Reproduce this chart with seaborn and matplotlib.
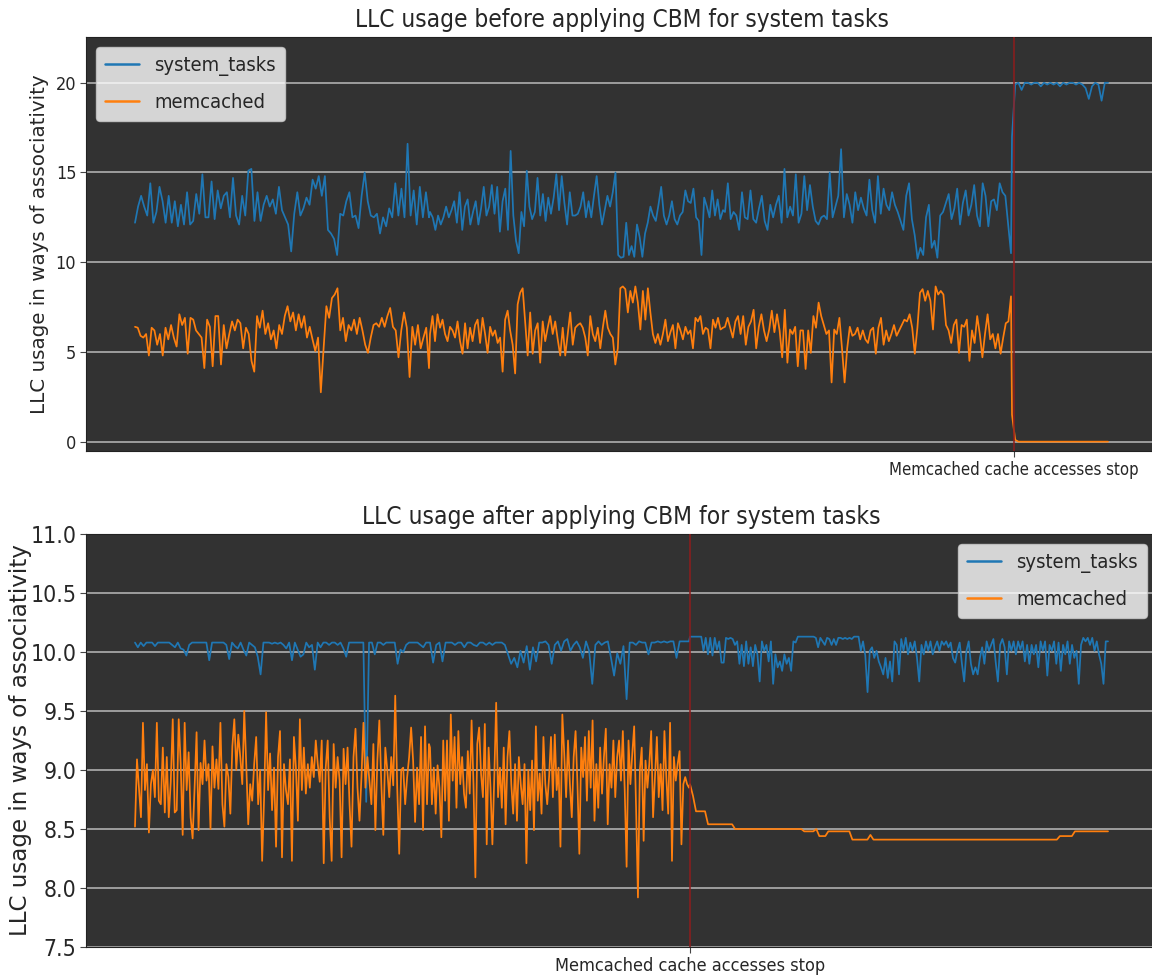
import numpy as np
import pandas as pd
import matplotlib
matplotlib.use("Agg")
import matplotlib.pyplot as plt
import seaborn as sns

# ---------------- data ----------------
SERIES = ["system_tasks", "memcached"]
STOP_LABEL = "Memcached cache accesses stop"
TITLE_TOP = "LLC usage before applying CBM for system tasks"
TITLE_BOTTOM = "LLC usage after applying CBM for system tasks"
YLABEL = "LLC usage in ways of associativity"

# time spans (arbitrary time units) of the chunks that were read
TOP_SPANS = [(0, 294), (295, 588), (590, 876), (877, 973)]
TOP_STOP = 879
BOTTOM_SPANS = [(0, 294), (295, 554), (555, 973)]
BOTTOM_STOP = 555

top_sys_1 = [12.2, 13.1, 13.7, 13.1, 12.6, 14.4, 12.2, 12.8, 14.2, 13.4, 12.2, 13.7, 12.2, 13.4, 12.0, 13.2,
             12.1, 13.9, 12.1, 12.3, 13.8, 12.7, 14.9, 12.5, 12.5, 14.5, 12.4, 14.0, 13.0, 13.7, 13.9, 12.5,
             14.7, 12.6, 12.1, 13.7, 12.6, 15.1, 15.2, 12.3, 13.9, 12.3, 13.2, 13.7, 13.1, 13.5, 12.7, 14.2,
             12.9, 12.5, 12.1, 10.6, 12.7, 13.9, 12.6, 13.0, 13.6, 13.2, 14.6, 14.1, 14.8, 13.7, 14.8, 11.8,
             11.6, 11.3, 10.4, 12.7, 12.6, 13.4, 13.9, 12.5, 12.6, 11.9, 13.7, 15.0, 13.4, 12.6, 12.5, 12.7,
             11.6, 12.5, 12.0, 13.0, 12.5, 14.4, 12.6, 14.1, 12.5, 16.6, 12.6, 14.0, 12.1, 14.2, 12.5, 13.9, 12.5]
top_sys_2 = [12.8, 12.5, 11.8, 12.6, 12.1, 12.5, 13.1, 12.5, 12.9, 13.4, 12.2, 13.9, 11.8, 13.1, 13.5, 12.1,
             12.8, 13.4, 12.1, 13.0, 14.2, 12.6, 13.1, 14.3, 12.7, 14.2, 11.7, 13.4, 14.1, 11.8, 16.2, 12.6,
             11.2, 10.5, 12.8, 12.0, 15.1, 13.1, 12.4, 12.8, 14.7, 12.6, 13.8, 12.3, 13.6, 12.7, 13.6, 14.9,
             12.9, 14.8, 13.3, 12.1, 13.9, 12.6, 12.6, 12.7, 13.1, 13.9, 12.5, 13.4, 12.5, 13.7, 14.8, 13.2,
             12.1, 12.9, 13.7, 13.1, 13.9, 15.0, 10.4, 10.25, 10.3, 12.2, 10.4, 10.9, 10.3, 12.1, 11.4, 10.3,
             11.6, 12.2, 13.1, 12.6, 12.3, 13.2, 14.2, 12.6, 12.1, 12.6, 13.4, 12.4, 12.1, 12.6, 12.8, 14.0,
             13.4, 13.3, 14.1, 12.5, 12.3, 10.4, 13.6, 13.1, 12.5, 14.0, 12.6, 13.5, 12.4, 12.9]
top_sys_3 = [12.8, 14.4, 12.4, 12.8, 12.6, 11.8, 13.9, 12.5, 12.4, 14.0, 12.4, 12.2, 13.0, 13.7, 12.3, 11.8,
             13.2, 12.5, 13.2, 13.7, 12.2, 15.2, 12.5, 13.1, 12.6, 14.9, 12.2, 12.7, 14.8, 12.9, 14.3, 13.1,
             12.3, 12.1, 12.5, 12.6, 12.4, 15.0, 12.5, 13.1, 13.7, 16.3, 12.5, 13.8, 13.2, 12.2, 13.9, 12.9,
             13.6, 13.0, 12.6, 14.6, 12.9, 12.2, 14.8, 12.7, 14.1, 13.2, 12.9, 13.9, 13.2, 12.8, 12.3, 11.8,
             13.7, 14.4, 12.4, 11.5, 10.2, 10.8, 10.4, 12.5, 13.2, 10.8, 11.2, 10.25, 12.6, 12.8, 13.3, 13.8,
             12.4, 13.0, 14.1, 12.1, 13.3, 14.0, 12.6, 13.2, 14.3, 12.6, 12.0, 14.4, 13.7, 12.0, 13.4, 13.5,
             12.9, 14.4, 13.9, 13.7, 12.1, 10.5]
top_sys_4 = [17.0, 19.9, 20.0, 19.6, 20.0, 20.0, 19.9, 20.0, 20.0, 19.8, 20.0, 19.9, 20.0, 19.9, 20.0, 19.8,
             20.0, 19.9, 20.0, 20.0, 19.9, 20.0, 19.9, 19.7, 19.1, 19.8, 20.0, 19.9, 19.0, 20.0, 20.0]

top_mem_1 = [6.4, 6.35, 5.9, 5.8, 6.0, 4.8, 6.35, 6.2, 5.4, 6.0, 4.8, 6.35, 5.7, 6.5, 5.8, 5.3, 7.1, 6.5, 6.9,
             4.9, 6.9, 6.8, 6.2, 6.0, 5.8, 4.1, 6.8, 6.4, 4.2, 7.0, 7.0, 4.3, 6.5, 5.2, 6.0, 6.7, 6.2, 6.8,
             6.6, 5.2, 6.35, 6.0, 4.5, 3.9, 7.0, 6.35, 7.3, 6.0, 6.6, 5.7, 6.2, 5.2, 6.5, 6.0, 7.0, 7.55, 6.7,
             7.2, 6.2, 7.1, 6.35, 7.0, 5.8, 6.4, 5.7, 5.05, 5.8, 2.75, 5.2, 7.55, 6.9, 8.0, 8.2, 8.55, 6.2,
             6.9, 5.6, 6.5, 6.2, 6.8, 6.0, 6.9, 6.2, 5.4, 4.95, 5.8, 6.5, 6.6, 6.4, 6.9, 6.4, 7.0, 7.45, 6.4,
             6.2, 4.7, 6.2, 7.2, 6.35, 3.6, 6.4, 5.4, 6.5, 5.2, 5.8, 6.35, 4.1]
top_mem_2 = [6.0, 7.0, 5.6, 7.1, 6.35, 6.8, 6.0, 5.6, 6.4, 6.2, 5.8, 6.7, 5.6, 4.9, 6.6, 5.2, 6.35, 5.6, 6.5,
             6.8, 5.5, 6.9, 6.0, 4.95, 6.4, 5.9, 6.2, 5.5, 5.8, 3.9, 6.8, 7.3, 6.2, 5.4, 3.8, 7.65, 8.3, 8.55,
             6.7, 4.8, 7.2, 4.9, 6.2, 6.6, 4.4, 6.7, 5.6, 6.35, 7.0, 6.0, 6.7, 5.7, 4.8, 6.35, 4.8, 6.0, 7.2,
             5.4, 6.35, 6.5, 6.6, 6.35, 5.8, 4.8, 7.0, 6.0, 5.6, 6.35, 5.2, 6.35, 7.3, 6.35, 6.0, 5.8, 4.3,
             5.2, 8.55, 8.65, 8.5, 7.2, 8.4, 7.75, 8.65, 7.75, 6.25, 8.4, 6.8, 8.55, 7.2, 6.0, 5.5, 6.0, 5.4,
             6.0, 6.8, 5.6, 6.1, 6.5, 5.2, 6.6, 6.2, 5.7, 6.4, 6.0, 6.2, 5.2, 6.9, 6.7, 7.0, 6.0, 6.35, 6.25,
             5.2, 6.8, 6.35, 6.9, 6.25, 6.35]
top_mem_3 = [6.4, 6.9, 6.35, 5.8, 6.7, 7.0, 6.0, 7.0, 5.4, 6.4, 6.7, 7.35, 5.2, 6.4, 7.1, 6.2, 5.6, 6.25, 7.3,
             6.1, 7.1, 6.2, 4.7, 7.35, 4.4, 6.25, 6.0, 6.4, 4.2, 6.2, 6.2, 4.05, 6.2, 4.95, 7.0, 6.35, 7.75,
             7.0, 6.5, 6.0, 6.2, 3.3, 6.25, 6.0, 6.9, 5.2, 3.3, 5.2, 6.4, 5.9, 6.0, 6.35, 5.7, 6.2, 5.7, 5.5,
             6.2, 6.35, 4.9, 6.35, 6.9, 5.4, 6.2, 5.6, 6.0, 6.5, 5.9, 6.2, 6.5, 6.8, 6.7, 7.1, 6.35, 4.9, 6.35,
             8.3, 8.5, 7.85, 8.4, 7.85, 6.25, 8.65, 8.2, 8.4, 8.2, 6.5, 6.2, 5.5, 6.5, 6.8, 4.95, 6.5, 6.4,
             6.8, 4.5, 6.2, 5.5, 7.0, 6.0, 4.7, 6.0, 7.1, 5.7, 6.0, 5.2, 6.0, 4.9, 5.8, 6.6, 6.7, 8.1]
top_mem_4 = [1.5, 0.1, 0.0, 0.0, 0.0, 0.0, 0.0, 0.0, 0.0, 0.0, 0.0, 0.0, 0.0, 0.0, 0.0, 0.0,
             0.0, 0.0, 0.0, 0.0, 0.0, 0.0, 0.0, 0.0, 0.0, 0.0, 0.0, 0.0, 0.0, 0.0, 0.0]

bot_sys_1 = [10.08, 10.04, 10.08, 10.05, 10.08, 10.08, 10.08, 10.05, 10.08, 10.08, 10.08, 10.08, 10.08, 10.06,
             10.04, 10.08, 10.03, 10.02, 9.97, 10.06, 10.08, 10.08, 10.08, 10.08, 10.08, 10.08, 9.93, 10.08,
             10.08, 10.08, 10.08, 10.08, 10.06, 9.94, 10.08, 10.05, 10.03, 10.08, 10.02, 9.97, 10.08, 10.06,
             10.04, 9.96, 9.81, 10.08, 10.08, 10.08, 10.07, 10.08, 10.07, 10.08, 10.06, 10.03, 10.08, 9.93,
             10.08, 10.02, 9.96, 9.98, 10.08, 10.04, 10.06, 9.85, 10.08, 10.04, 10.08, 10.08, 10.06, 10.08,
             10.08, 10.06, 10.08, 10.03, 9.96, 10.08, 10.08, 10.08, 10.08, 10.08, 10.08, 8.73, 10.08, 10.08,
             9.98, 10.08, 10.08, 10.06, 10.08, 10.08, 10.08, 10.08, 9.90, 10.02, 10.00, 10.06, 10.08, 10.08,
             10.08, 10.08, 10.06, 10.04, 10.08, 10.08]
bot_sys_2 = [10.08, 9.91, 10.06, 10.08, 9.92, 10.08, 10.08, 10.08, 10.06, 10.08, 10.08, 10.04, 10.08, 10.08,
             10.06, 10.05, 10.08, 10.08, 10.06, 10.08, 10.06, 10.08, 10.08, 10.08, 10.06, 9.98, 9.90, 9.95,
             9.87, 10.01, 9.91, 10.05, 9.85, 10.04, 9.92, 10.08, 10.08, 10.09, 10.06, 9.90, 10.06, 10.09,
             10.01, 10.09, 10.11, 10.01, 10.06, 10.09, 10.04, 9.95, 10.09, 10.01, 9.73, 10.06, 10.09, 10.06,
             10.08, 10.09, 9.95, 9.80, 9.99, 9.90, 10.05, 9.60, 10.08, 10.08, 10.06, 10.09, 10.08, 10.08,
             9.98, 10.08, 10.08, 10.09, 10.08, 10.09, 10.08, 10.09, 10.09, 9.95, 10.09, 10.09, 10.09, 10.09]
bot_sys_3 = [10.13, 10.13, 10.13, 10.13, 10.13, 10.13, 10.01, 10.12, 9.98, 10.12, 9.97, 10.12, 10.02, 10.09,
             9.91, 9.91, 10.12, 10.11, 10.12, 10.11, 10.06, 10.09, 9.90, 10.06, 9.88, 10.09, 9.90, 10.04,
             9.88, 10.06, 9.98, 9.75, 10.09, 10.01, 10.06, 9.92, 10.09, 9.73, 9.98, 9.87, 9.92, 9.84, 9.98,
             9.90, 9.95, 9.84, 10.09, 10.08, 10.13, 10.13, 10.13, 10.13, 10.13, 10.13, 10.13, 10.13, 10.12,
             10.04, 10.12, 10.09, 10.06, 10.12, 10.11, 10.06, 10.11, 10.06, 10.12, 10.12, 10.11, 10.12, 10.11,
             10.12, 10.11, 10.13, 10.13, 10.13, 10.01, 10.09, 9.97, 9.66, 10.01, 10.04, 9.95, 10.01, 9.92,
             9.87, 9.81, 9.95, 9.78, 9.92, 9.75, 10.09, 10.06, 9.81, 10.11, 10.01, 10.12, 9.98, 10.08, 10.01,
             10.09, 9.95, 9.75, 10.06, 9.98, 10.09, 10.01, 10.09, 9.98, 10.04, 10.09, 10.01, 10.09, 10.06,
             10.09, 10.04, 10.08, 9.95, 9.91, 10.01, 10.08, 9.90, 9.75, 10.01, 10.09, 9.90, 9.81, 9.87, 9.81,
             9.95, 10.04, 9.90, 10.09, 10.01, 10.06, 10.11, 9.92, 9.75, 10.06, 10.11, 10.04, 9.81, 10.09,
             10.01, 10.09, 9.98, 10.09, 10.02, 10.09, 9.92, 10.06, 9.90, 10.06, 9.98, 10.06, 9.87, 10.09,
             10.01, 10.09, 9.80, 10.06, 10.01, 10.09, 9.90, 10.08, 9.84, 10.06, 9.98, 10.09, 9.90, 10.06,
             9.95, 10.01, 9.73, 10.06, 10.12, 10.09, 10.12, 10.06, 10.12, 10.01, 10.09, 9.98, 9.90, 9.73,
             10.09, 10.09]

bot_mem_1 = [8.52, 9.09, 8.85, 8.60, 9.40, 8.83, 9.05, 8.47, 8.88, 9.00, 8.77, 9.40, 8.74, 8.71, 9.19, 8.64,
             9.11, 8.60, 8.90, 9.43, 8.64, 8.66, 9.43, 9.05, 8.45, 9.40, 8.83, 9.15, 8.60, 8.42, 8.85, 9.32,
             8.49, 9.06, 8.88, 9.25, 8.91, 9.05, 8.50, 9.20, 8.85, 9.09, 8.84, 9.40, 8.71, 8.52, 9.05, 8.94,
             8.63, 9.20, 9.43, 9.00, 9.30, 9.11, 8.88, 9.50, 9.05, 8.54, 8.88, 8.74, 9.05, 9.28, 8.71, 9.00,
             8.23, 8.77, 9.49, 8.83, 9.14, 8.66, 9.02, 8.35, 9.11, 9.33, 8.26, 9.05, 8.83, 8.71, 9.09, 8.23,
             9.28, 9.02, 8.57, 9.43, 8.83, 9.19, 8.80, 9.05, 8.85, 9.11, 8.94, 9.25, 9.05, 8.90, 9.25, 8.21,
             9.02, 9.25, 8.60, 8.23, 9.22, 8.85, 9.11, 8.91, 8.26, 9.18, 8.88, 9.19, 8.71, 8.35, 9.11, 9.35,
             8.85, 8.57, 8.94, 9.40, 8.85, 9.11, 8.91, 8.71, 9.22, 8.49, 9.08, 9.42, 8.88, 8.45, 9.19, 9.00,
             8.77, 9.11, 8.87, 9.63, 8.85, 8.29, 9.00, 9.02, 8.71, 8.94, 9.11, 9.36, 9.08, 8.56, 9.02, 8.71,
             9.28, 8.49, 9.37, 8.71, 9.22]
bot_mem_2 = [9.19, 8.71, 9.02, 8.63, 9.04, 8.85, 8.43, 9.25, 8.74, 9.25, 8.57, 9.47, 8.91, 9.28, 8.68, 9.33,
             8.88, 9.11, 8.80, 8.68, 9.16, 8.80, 9.42, 8.88, 8.09, 9.22, 9.36, 8.97, 8.77, 9.39, 8.37, 9.19,
             8.85, 8.37, 8.94, 9.57, 8.77, 9.02, 8.68, 9.19, 8.54, 9.11, 9.33, 8.88, 8.63, 9.05, 8.57, 9.11,
             8.88, 8.71, 9.05, 8.21, 9.00, 8.66, 9.08, 8.49, 9.37, 8.74, 8.97, 8.63, 9.28, 8.88, 8.71, 8.94,
             9.28, 8.77, 9.30, 8.83, 9.02, 8.35, 9.47, 9.14, 8.77, 9.25, 8.88, 8.60, 9.11, 9.33, 8.88, 8.29,
             9.19, 8.94, 9.28, 8.74, 9.33, 8.85, 9.42, 8.57, 9.05, 8.68, 9.19, 8.80, 9.11, 9.35, 8.54, 9.05,
             8.85, 9.25, 8.77, 9.11, 9.25, 8.91, 9.33, 8.83, 8.18, 9.25, 8.88, 9.14, 9.37, 8.68, 7.92, 9.00,
             9.19, 8.40, 9.08, 8.85, 9.05, 9.33, 8.60, 8.94, 9.28, 8.77, 9.05, 8.66, 9.33, 8.94, 8.63, 9.40,
             8.23, 9.11, 8.91, 9.05, 9.16, 8.37, 8.88, 8.94, 8.88, 8.85]
bot_mem_3 = ([8.88, 8.78, 8.65, 8.65, 8.65, 8.65] + [8.54] * 9 + [8.50] * 23 + [8.48] * 4 + [8.50]
             + [8.44] * 3 + [8.48] * 8 + [8.41] * 6 + [8.45] + [8.41] * 62 + [8.44] * 5 + [8.48] * 12)

TOP_DATA = {"system_tasks": [top_sys_1, top_sys_2, top_sys_3, top_sys_4],
            "memcached": [top_mem_1, top_mem_2, top_mem_3, top_mem_4]}
BOTTOM_DATA = {"system_tasks": [bot_sys_1, bot_sys_2, bot_sys_3],
               "memcached": [bot_mem_1, bot_mem_2, bot_mem_3]}

TOP_YTICKS = [0, 5, 10, 15, 20]
BOTTOM_YTICKS = [7.5, 8.0, 8.5, 9.0, 9.5, 10.0, 10.5, 11.0]


def to_frame(data, spans):
    rows = []
    for name, chunks in data.items():
        for chunk, (t0, t1) in zip(chunks, spans):
            t = np.linspace(t0, t1, len(chunk))
            rows.append(pd.DataFrame({"t": t, "value": chunk, "series": name}))
    return pd.concat(rows, ignore_index=True)


# ---------------- style ----------------
sns.set_theme(style="dark")
plt.rcParams["font.family"] = ["DejaVu Sans"]
plt.rcParams["font.stretch"] = "condensed"

BG = "#323232"
GRID = "#a6a6a6"
PALETTE = {"system_tasks": "#1f77b4", "memcached": "#ff7f0e"}
RED = "#8e1c1c"

fig = plt.figure(figsize=(11.52, 9.77), dpi=100)
fig.patch.set_facecolor("white")

W, H = 1152, 977
ax_top = fig.add_axes([86 / W, 1 - 451 / H, 1071 / W, 414 / H])
ax_bot = fig.add_axes([86 / W, 1 - 947 / H, 1071 / W, 413 / H])


def draw(ax, df, stop, title, ylim, yticks, fmt, legend_loc, fs):
    ax.set_facecolor(BG)
    sns.lineplot(data=df, x="t", y="value", hue="series", hue_order=SERIES, palette=PALETTE,
                 estimator=None, sort=False, linewidth=1.25, ax=ax)
    ax.axvline(stop, color=RED, lw=1.1, zorder=3)
    ax.set_xlim(-49, 1022)
    ax.set_ylim(*ylim)
    ax.set_yticks(yticks)
    ax.set_yticklabels([fmt.format(v) for v in yticks], fontsize=fs["tick"])
    ax.set_xticks([stop])
    ax.set_xticklabels([STOP_LABEL], fontsize=fs["xtick"])
    ax.grid(axis="y", color=GRID, lw=1.3)
    ax.grid(axis="x", visible=False)
    ax.set_axisbelow(True)
    ax.set_xlabel("")
    ax.set_ylabel(YLABEL, fontsize=fs["ylabel"], labelpad=fs["labelpad"], fontstretch="normal")
    ax.set_title(title, fontsize=fs["title"], pad=7)
    ax.tick_params(axis="both", which="major", length=4, width=0.8, color="#444444",
                   left=True, bottom=True, pad=3)
    for s in ax.spines.values():
        s.set_color("#222222")
        s.set_linewidth(0.8)
    leg = ax.legend(loc=legend_loc, fontsize=fs["legend"], frameon=True, facecolor="white",
                    framealpha=0.8, edgecolor="#cccccc", handlelength=1.7, labelspacing=0.85,
                    borderpad=0.45, handletextpad=0.75)
    for line in leg.get_lines():
        line.set_linewidth(1.8)


draw(ax_top, to_frame(TOP_DATA, TOP_SPANS), TOP_STOP, TITLE_TOP, (-0.52, 22.55), TOP_YTICKS,
     "{:.0f}", "upper left",
     dict(tick=13, xtick=12, ylabel=14.3, labelpad=5, title=17.5, legend=14.5))
draw(ax_bot, to_frame(BOTTOM_DATA, BOTTOM_SPANS), BOTTOM_STOP, TITLE_BOTTOM, (7.5, 11.0), BOTTOM_YTICKS,
     "{:.1f}", "upper right",
     dict(tick=16.5, xtick=13, ylabel=16.6, labelpad=-1, title=17.6, legend=14.5))

fig.savefig("out.png", dpi=100)
